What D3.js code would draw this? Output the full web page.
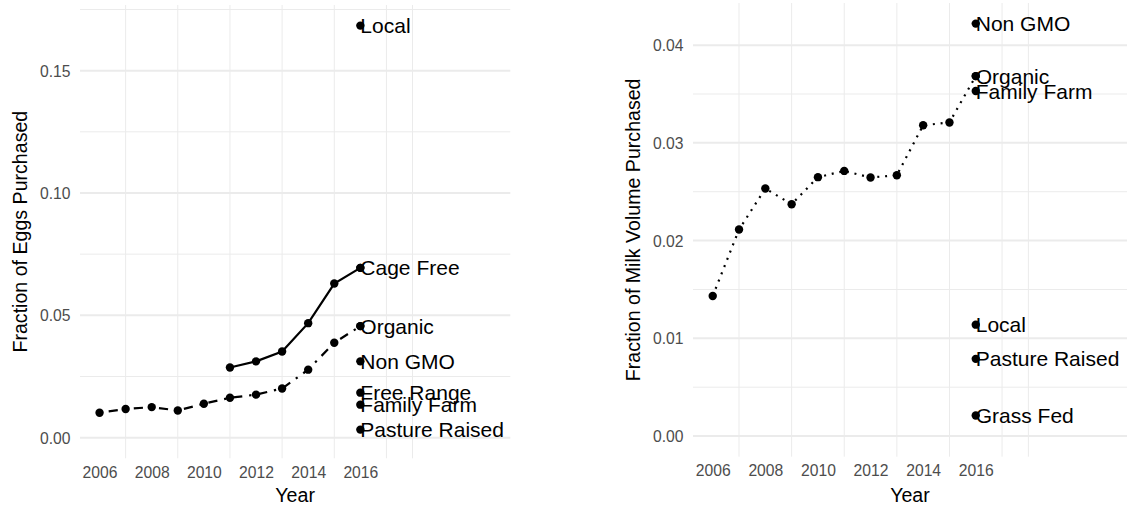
<!DOCTYPE html>
<html>
<head>
<meta charset="utf-8">
<script src="https://cdn.jsdelivr.net/npm/d3@7"></script>
<style>
  html, body { margin: 0; padding: 0; background: #fff; }
  svg { display: block; font-family: "Liberation Sans", Arial, Helvetica, sans-serif; }
</style>
</head>
<body>
<svg id="chart" width="1127" height="508"></svg>
<script>
// ---------- data ----------
const years = [2006, 2007, 2008, 2009, 2010, 2011, 2012, 2013, 2014, 2015, 2016];
const xTicks = [2006, 2008, 2010, 2012, 2014, 2016];
const xMinorGrid = [2007, 2009, 2011, 2013, 2015, 2017, 2018];

// Eggs
const eggCageFreeYears = [2011, 2012, 2013, 2014, 2015, 2016];
const eggCageFree = [0.0287, 0.0312, 0.0352, 0.0468, 0.0630, 0.0694];
const eggOrganic = [0.0102, 0.0117, 0.0125, 0.0111, 0.0139, 0.0163, 0.0176, 0.0201, 0.0278, 0.0388, 0.0456];
const eggLabels = ["Local", "Cage Free", "Organic", "Non GMO", "Free Range", "Family Farm", "Pasture Raised"];
const eggLabelValues = [0.1684, 0.0694, 0.0456, 0.0312, 0.0184, 0.0135, 0.0033];
const eggYTicks = [0, 0.05, 0.10, 0.15];
const eggYMinor = [0.025, 0.075, 0.125, 0.175];

// Milk
const milkOrganic = [0.01433, 0.02113, 0.02533, 0.02372, 0.02649, 0.02713, 0.02645, 0.02669, 0.0318, 0.03209, 0.03683];
const milkLabels = ["Non GMO", "Organic", "Family Farm", "Local", "Pasture Raised", "Grass Fed"];
const milkLabelValues = [0.0422, 0.03683, 0.0353, 0.0114, 0.0079, 0.0021];
const milkYTicks = [0, 0.01, 0.02, 0.03, 0.04];
const milkYMinor = [0.005, 0.015, 0.025, 0.035];

const svg = d3.select("#chart");

function panel(cfg) {
  const g = svg.append("g");
  const xExt = [2006, 2021];
  const xPad = (xExt[1] - xExt[0]) * 0.05;
  const x = d3.scaleLinear().domain([xExt[0] - xPad, xExt[1] + xPad]).range([cfg.left, cfg.right]);
  const yMax = d3.max(cfg.labelValues);
  const yPad = yMax * 0.05;
  const y = d3.scaleLinear().domain([-yPad, yMax + yPad]).range([cfg.bottom, cfg.top]);

  // grid
  const grid = g.append("g");
  grid.selectAll(".hmin").data(cfg.yMinor.filter(v => v <= yMax + yPad)).join("line")
    .attr("x1", cfg.left).attr("x2", cfg.right)
    .attr("y1", d => y(d)).attr("y2", d => y(d))
    .attr("stroke", "#EBEBEB").attr("stroke-width", 1);
  grid.selectAll(".vmin").data(xMinorGrid).join("line")
    .attr("x1", d => x(d)).attr("x2", d => x(d))
    .attr("y1", cfg.top).attr("y2", cfg.bottom)
    .attr("stroke", "#EBEBEB").attr("stroke-width", 1);
  grid.selectAll(".hmaj").data(cfg.yTicks).join("line")
    .attr("x1", cfg.left).attr("x2", cfg.right)
    .attr("y1", d => y(d)).attr("y2", d => y(d))
    .attr("stroke", "#EBEBEB").attr("stroke-width", 2);

  // axes (text only)
  const xAxis = g.append("g").attr("transform", `translate(0,${cfg.bottom + 4})`)
    .call(d3.axisBottom(x).tickValues(xTicks).tickFormat(d3.format("d")).tickSize(0).tickPadding(0));
  xAxis.select(".domain").remove();
  xAxis.selectAll("text").attr("fill", "#4D4D4D").attr("font-size", "15.7px")
    .attr("dy", "1.0em").style("font-family", "Liberation Sans, Arial, sans-serif");

  const yAxis = g.append("g").attr("transform", `translate(${cfg.left - 9.5},0)`)
    .call(d3.axisLeft(y).tickValues(cfg.yTicks).tickFormat(d3.format(".2f")).tickSize(0).tickPadding(0));
  yAxis.select(".domain").remove();
  yAxis.selectAll("text").attr("fill", "#4D4D4D").attr("font-size", "15.7px")
    .attr("dy", "0.36em").style("font-family", "Liberation Sans, Arial, sans-serif");

  // titles
  g.append("text").attr("x", (cfg.left + cfg.right) / 2).attr("y", 501.7)
    .attr("text-anchor", "middle").attr("font-size", "19.6px").attr("fill", "#000").text("Year");
  g.append("text")
    .attr("transform", `translate(${cfg.left - 53},${(cfg.top + cfg.bottom) / 2}) rotate(-90)`)
    .attr("text-anchor", "middle").attr("font-size", "19.6px").attr("fill", "#000").text(cfg.yTitle);

  // lines
  const line = d3.line().x(d => x(d[0])).y(d => y(d[1]));
  cfg.series.forEach(s => {
    const pts = s.years.map((yr, i) => [yr, s.values[i]]);
    g.append("path").datum(pts).attr("d", line)
      .attr("fill", "none").attr("stroke", "#000").attr("stroke-width", s.width)
      .attr("stroke-dasharray", s.dash).attr("stroke-linecap", "butt");
    g.selectAll(null).data(pts).join("circle")
      .attr("cx", d => x(d[0])).attr("cy", d => y(d[1])).attr("r", 4.2).attr("fill", "#000");
  });

  // single points + labels at 2016
  const lbl = cfg.labels.map((t, i) => ({ t, v: cfg.labelValues[i] }));
  g.selectAll(null).data(lbl).join("circle")
    .attr("cx", x(2016)).attr("cy", d => y(d.v)).attr("r", 4.2).attr("fill", "#000");
  g.selectAll(null).data(lbl).join("text")
    .attr("x", x(2016)).attr("y", d => y(d.v)).attr("dy", "0.36em")
    .attr("font-size", "21px").attr("fill", "#000").text(d => d.t);
}

panel({
  left: 80, right: 510.3, top: 5, bottom: 458.3,
  yTitle: "Fraction of Eggs Purchased",
  yTicks: eggYTicks, yMinor: eggYMinor,
  labels: eggLabels, labelValues: eggLabelValues,
  series: [
    { years: eggCageFreeYears, values: eggCageFree, dash: null, width: 2.2 },
    { years: years, values: eggOrganic, dash: "2.3,6.9,9.2,6.9", width: 2.2 }
  ]
});

panel({
  left: 693, right: 1127, top: 3, bottom: 456.7,
  yTitle: "Fraction of Milk Volume Purchased",
  yTicks: milkYTicks, yMinor: milkYMinor,
  labels: milkLabels, labelValues: milkLabelValues,
  series: [
    { years: years, values: milkOrganic, dash: "2,5.8", width: 2.2 }
  ]
});
</script>
</body>
</html>
